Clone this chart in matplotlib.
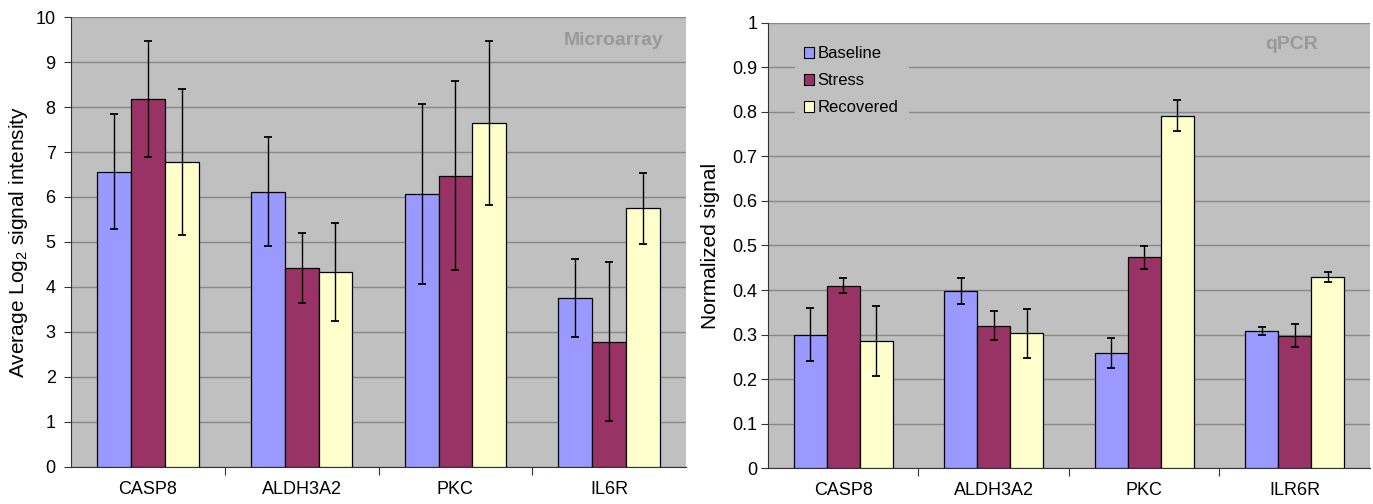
import numpy as np
import matplotlib
matplotlib.use("Agg")
import matplotlib.pyplot as plt
from matplotlib.patches import Patch

plt.rcParams['font.family'] = ['Liberation Sans', 'DejaVu Sans']
plt.rcParams['mathtext.default'] = 'regular'

genes_micro = ["CASP8", "ALDH3A2", "PKC", "IL6R"]
genes_qpcr = ["CASP8", "ALDH3A2", "PKC", "ILR6R"]
conditions = ["Baseline", "Stress", "Recovered"]

# microarray: average log2 signal intensity
micro_baseline = [6.56, 6.12, 6.07, 3.76]
micro_stress = [8.18, 4.42, 6.47, 2.78]
micro_recovered = [6.78, 4.33, 7.65, 5.75]
micro_baseline_err = [1.28, 1.21, 2.00, 0.87]
micro_stress_err = [1.29, 0.77, 2.10, 1.77]
micro_recovered_err = [1.63, 1.09, 1.82, 0.79]

# qPCR: normalized signal
qpcr_baseline = [0.300, 0.398, 0.259, 0.308]
qpcr_stress = [0.410, 0.320, 0.473, 0.297]
qpcr_recovered = [0.286, 0.303, 0.791, 0.430]
qpcr_baseline_err = [0.060, 0.030, 0.034, 0.010]
qpcr_stress_err = [0.016, 0.033, 0.026, 0.026]
qpcr_recovered_err = [0.078, 0.055, 0.035, 0.011]

colors = ["#9999FF", "#993366", "#FFFFCC"]
bg = "#C0C0C0"


def bar_panel(ax, genes, series, errs, ymax, ystep, ylabel, tag, tag_xy, ypad):
    x = np.arange(len(genes))
    w = 0.22
    for i, (vals, err) in enumerate(zip(series, errs)):
        ax.bar(x + (i - 1) * w, vals, w, color=colors[i], edgecolor="black",
               linewidth=0.9, zorder=3, label=conditions[i])
        ax.errorbar(x + (i - 1) * w, vals, yerr=err, fmt="none", ecolor="black",
                    elinewidth=1.0, capsize=2.7, capthick=1.3, zorder=4)
    ax.set_facecolor(bg)
    ax.set_xlim(-0.5, len(genes) - 0.5)
    ax.set_ylim(0, ymax)
    ax.set_yticks(np.arange(0, ymax + ystep / 2, ystep))
    ax.yaxis.grid(True, color="#888888", linewidth=1.0, zorder=0)
    ax.set_axisbelow(True)
    # category labels centred, ticks on category boundaries
    ax.set_xticks(np.arange(0.5, len(genes) - 0.5, 1.0))
    ax.set_xticklabels([])
    ax.set_xticks(x, minor=True)
    ax.set_xticklabels(genes, minor=True, fontsize=13)
    ax.tick_params(axis="x", which="minor", length=0, pad=10)
    ax.tick_params(axis="x", which="major", length=6, color="#333333")
    ax.tick_params(axis="y", labelsize=13, length=5, color="#333333", pad=ypad)
    for s in ["top", "right"]:
        ax.spines[s].set_visible(False)
    for s in ["left", "bottom"]:
        ax.spines[s].set_color("#333333")
    ax.set_ylabel(ylabel, fontsize=15)
    ax.text(tag_xy[0], tag_xy[1], tag, transform=ax.transAxes, ha="right", va="center",
            fontsize=14, fontweight="bold", color="#999999")


fig = plt.figure(figsize=(13.73, 5.04), dpi=100)
ax1 = fig.add_axes([0.0517, 0.074, 0.448, 0.892])
ax2 = fig.add_axes([0.5593, 0.071, 0.4385, 0.884])

bar_panel(ax1, genes_micro, [micro_baseline, micro_stress, micro_recovered],
          [micro_baseline_err, micro_stress_err, micro_recovered_err],
          10, 1, r"Average Log$_{2}$ signal intensity", "Microarray", (0.963, 0.947), 6)
ax1.set_yticklabels([str(int(v)) for v in np.arange(0, 11, 1)])
ax1.yaxis.set_label_coords(-0.066, 0.5)

bar_panel(ax2, genes_qpcr, [qpcr_baseline, qpcr_stress, qpcr_recovered],
          [qpcr_baseline_err, qpcr_stress_err, qpcr_recovered_err],
          1.0, 0.1, "Normalized signal", "qPCR", (0.914, 0.95), 2.5)
ax2.set_yticklabels(["0"] + [f"{v:.1f}" for v in np.arange(0.1, 0.95, 0.1)] + ["1"])
ax2.yaxis.set_label_coords(-0.08, 0.5)

handles = [Patch(facecolor=c, edgecolor="black", linewidth=0.8) for c in colors]
leg = ax2.legend(handles, conditions, loc="upper left", bbox_to_anchor=(0.045, 0.968),
                 frameon=True, fontsize=12, handlelength=0.6, handleheight=0.6,
                 handletextpad=0.2, labelspacing=0.72, borderaxespad=0.0,
                 borderpad=0.55, fancybox=False)
leg.get_frame().set_facecolor(bg)
leg.get_frame().set_edgecolor(bg)
leg.get_frame().set_alpha(1.0)
leg.set_zorder(5)

fig.savefig("out.png", dpi=100)
